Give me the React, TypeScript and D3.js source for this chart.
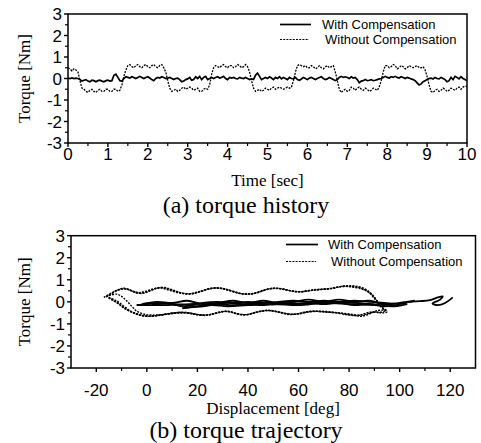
import React from "react";
import * as d3 from "d3";

// ---------- data ----------
const SAMPLE_STEP = 0.05; // s, sampling interval of the recorded torque history

// Without compensation (Nm), one row per second, 20 samples each, plus final sample
const torqueWithout: number[] = [
  0.5, 0.45, 0.35, 0.45, 0.4, 0.3, -0.1, -0.45, -0.5, -0.6, -0.65, -0.55, -0.5, -0.6, -0.65, -0.55, -0.5, -0.6, -0.6, -0.5,
  -0.5, -0.6, -0.6, -0.5, -0.5, -0.6, -0.55, -0.3, 0.1, 0.4, 0.6, 0.65, 0.55, 0.5, 0.6, 0.65, 0.55, 0.5, 0.6, 0.65,
  0.55, 0.5, 0.6, 0.65, 0.55, 0.5, 0.6, 0.65, 0.5, 0.3, -0.1, -0.45, -0.6, -0.55, -0.5, -0.6, -0.55, -0.45, -0.4, -0.5,
  -0.45, -0.4, -0.45, -0.55, -0.5, -0.45, -0.6, -0.6, -0.5, -0.45, -0.5, -0.3, 0.2, 0.5, 0.6, 0.55, 0.5, 0.6, 0.65, 0.55,
  0.5, 0.6, 0.6, 0.5, 0.55, 0.65, 0.6, 0.5, 0.55, 0.65, 0.55, 0.3, -0.1, -0.45, -0.6, -0.55, -0.5, -0.6, -0.55, -0.45,
  -0.5, -0.55, -0.45, -0.4, -0.5, -0.45, -0.4, -0.45, -0.5, -0.45, -0.4, -0.45, -0.4, -0.1, 0.3, 0.6, 0.65, 0.6, 0.55, 0.6,
  0.5, 0.5, 0.6, 0.55, 0.45, 0.5, 0.6, 0.5, 0.45, 0.55, 0.6, 0.5, 0.55, 0.6, 0.3, -0.1, -0.5, -0.65, -0.55, -0.5,
  -0.6, -0.55, -0.4, -0.45, -0.55, -0.45, -0.4, -0.5, -0.55, -0.45, -0.5, -0.6, -0.55, -0.45, -0.5, -0.55, -0.4, -0.1, 0.3, 0.6,
  0.6, 0.5, 0.55, 0.65, 0.6, 0.45, 0.5, 0.6, 0.55, 0.45, 0.5, 0.6, 0.55, 0.5, 0.55, 0.6, 0.5, 0.5, 0.55, 0.4,
  0.1, -0.3, -0.6, -0.65, -0.55, -0.5, -0.6, -0.55, -0.45, -0.5, -0.6, -0.55, -0.45, -0.5, -0.55, -0.45, -0.4, -0.5, -0.4, -0.35,
  -0.35,
];

// With compensation (Nm)
const torqueWith: number[] = [
  0.02, 0.0, 0.03, 0.0, 0.02, 0.0, -0.05, -0.12, -0.08, -0.05, -0.12, -0.15, -0.08, -0.1, -0.15, -0.1, -0.08, -0.12, -0.15, -0.1,
  -0.08, -0.12, -0.1, 0.15, 0.2, 0.05, -0.1, -0.12, 0.0, 0.08, 0.05, 0.02, 0.08, 0.05, 0.0, 0.05, 0.1, 0.05, 0.0, 0.05,
  0.08, 0.02, -0.05, -0.1, 0.0, 0.05, 0.02, 0.08, 0.05, 0.0, 0.02, 0.05, 0.0, -0.05, 0.0, 0.02, -0.05, -0.15, -0.12, -0.05,
  -0.02, 0.05, -0.08, -0.05, 0.08, 0.0, 0.1, -0.05, 0.05, 0.1, -0.05, 0.0, 0.05, 0.0, 0.05, 0.08, 0.02, 0.05, 0.1, 0.0,
  -0.05, 0.05, 0.02, 0.05, 0.0, -0.02, 0.05, 0.02, 0.0, 0.05, 0.0, -0.05, -0.02, -0.05, 0.15, 0.25, 0.1, -0.05, 0.0, 0.05,
  0.0, 0.08, 0.02, -0.05, 0.05, 0.0, 0.08, -0.02, 0.05, 0.0, -0.05, 0.05, 0.0, -0.02, 0.05, -0.05, -0.08, -0.02, 0.05, 0.0,
  -0.05, 0.02, 0.05, 0.0, -0.05, 0.0, 0.05, 0.08, 0.0, -0.05, -0.02, 0.05, 0.0, -0.05, -0.1, -0.05, 0.05, 0.1, 0.05, 0.08,
  0.05, 0.0, 0.08, 0.02, 0.05, -0.05, -0.2, -0.12, -0.1, -0.05, -0.1, -0.08, -0.05, -0.1, -0.08, -0.05, -0.02, 0.0, 0.05, 0.1,
  0.05, 0.02, 0.08, 0.05, 0.1, 0.05, 0.02, 0.08, 0.05, 0.0, 0.05, 0.02, -0.02, -0.05, -0.1, -0.2, -0.3, -0.25, -0.15, -0.1,
  -0.05, 0.0, 0.02, -0.02, 0.05, 0.0, -0.02, 0.05, 0.0, -0.05, -0.15, -0.1, 0.05, -0.05, 0.1, 0.05, -0.02, 0.08, 0.0, -0.05,
  -0.1,
];

// Trajectory (displacement deg, torque Nm): without compensation, several passes
const trajWithoutA: [number, number][] = [
  [-16, 0.25], [-13, 0.45], [-10, 0.6], [-7, 0.55], [-4, 0.4], [-1, 0.42], [2, 0.55], [5, 0.65], [8, 0.6], [12, 0.45],
  [16, 0.35], [20, 0.42], [24, 0.58], [28, 0.63], [32, 0.55], [36, 0.4], [40, 0.35], [44, 0.42], [48, 0.58], [52, 0.6],
  [56, 0.52], [60, 0.45], [64, 0.5], [68, 0.55], [72, 0.6], [76, 0.68], [80, 0.7], [84, 0.65], [87, 0.5], [90, 0.2],
  [92, -0.1], [94, -0.35], [95, -0.45], [93, -0.5], [90, -0.45], [87, -0.5], [84, -0.6], [80, -0.55], [76, -0.5],
  [72, -0.45], [68, -0.42], [64, -0.45], [60, -0.55], [56, -0.55], [52, -0.45], [48, -0.38], [44, -0.45], [40, -0.58],
  [36, -0.55], [32, -0.42], [28, -0.5], [24, -0.6], [20, -0.58], [16, -0.5], [12, -0.5], [8, -0.55], [4, -0.62],
  [0, -0.65], [-4, -0.55], [-8, -0.35], [-11, -0.1], [-14, 0.1], [-16, 0.25],
];
const trajWithoutB: [number, number][] = [
  [-17, 0.2], [-14, 0.4], [-11, 0.55], [-8, 0.58], [-5, 0.45], [-2, 0.38], [1, 0.48], [4, 0.62], [7, 0.65], [10, 0.55],
  [14, 0.4], [18, 0.38], [22, 0.5], [26, 0.62], [30, 0.6], [34, 0.48], [38, 0.36], [42, 0.38], [46, 0.52], [50, 0.62],
  [54, 0.58], [58, 0.48], [62, 0.47], [66, 0.55], [70, 0.58], [74, 0.62], [78, 0.72], [82, 0.72], [86, 0.6], [89, 0.35],
  [91, 0.05], [93, -0.25], [95, -0.4], [94, -0.38], [91, -0.4], [88, -0.55], [85, -0.65], [81, -0.6], [77, -0.52],
  [73, -0.48], [69, -0.45], [65, -0.42], [61, -0.5], [57, -0.58], [53, -0.5], [49, -0.4], [45, -0.42], [41, -0.55],
  [37, -0.58], [33, -0.45], [29, -0.45], [25, -0.58], [21, -0.6], [17, -0.52], [13, -0.48], [9, -0.52], [5, -0.6],
  [1, -0.66], [-3, -0.6], [-6, -0.45], [-9, -0.2], [-12, 0.05], [-15, 0.2],
];
const trajWithoutC: [number, number][] = [
  [-15, 0.28], [-12, 0.35], [-10, 0.25], [-8, 0.05], [-6, -0.2], [-4, -0.42], [-1, -0.56], [3, -0.6], [7, -0.57],
  [11, -0.5], [15, -0.47], [19, -0.55], [23, -0.62],
];
const trajWithoutD: [number, number][] = [
  [-16, 0.22], [-12, 0.5], [-9, 0.62], [-6, 0.5], [-3, 0.42], [0, 0.5], [3, 0.6], [6, 0.62], [9, 0.52], [13, 0.4],
  [17, 0.37], [21, 0.47], [25, 0.6], [29, 0.62], [33, 0.5], [37, 0.38], [41, 0.36], [45, 0.47], [49, 0.6], [53, 0.6],
  [57, 0.5], [61, 0.46], [65, 0.52], [69, 0.56], [73, 0.6], [77, 0.7], [81, 0.68], [85, 0.58], [88, 0.42], [90, 0.15],
  [92, -0.15], [94, -0.42], [92, -0.48], [89, -0.48], [86, -0.58], [83, -0.62], [79, -0.58], [75, -0.5], [71, -0.46],
  [67, -0.43], [63, -0.47], [59, -0.56], [55, -0.53], [51, -0.43], [47, -0.4], [43, -0.48], [39, -0.58], [35, -0.52],
  [31, -0.43], [27, -0.53], [23, -0.6], [19, -0.56], [15, -0.49], [11, -0.52], [7, -0.58], [3, -0.64], [-1, -0.63],
  [-5, -0.5], [-9, -0.28], [-12, -0.02], [-15, 0.18],
];

// Trajectory: with compensation, several passes
const trajWithA: [number, number][] = [
  [-4, -0.15], [0, -0.1], [5, -0.05], [10, -0.1], [14, -0.2], [18, -0.15], [22, -0.05], [28, 0.0], [34, -0.05],
  [40, 0.0], [46, -0.05], [52, 0.0], [58, 0.05], [64, 0.0], [70, 0.05], [76, 0.0], [82, 0.05], [88, 0.0], [94, -0.05],
  [100, -0.1], [104, 0.0], [108, 0.03], [112, 0.08], [115, 0.2], [117, 0.25], [116, 0.1], [113, -0.08], [115, -0.15],
  [118, -0.05], [121, 0.2],
];
const trajWithB: [number, number][] = [
  [100, -0.15], [94, -0.2], [88, -0.1], [82, -0.15], [76, -0.05], [70, -0.1], [64, -0.05], [58, -0.1], [52, -0.05],
  [46, -0.15], [40, -0.1], [34, -0.15], [28, -0.1], [22, -0.2], [16, -0.25], [12, -0.15], [6, -0.15], [0, -0.15], [-4, -0.15],
];
const trajWithC: [number, number][] = [
  [-2, -0.1], [4, 0.0], [10, -0.05], [16, 0.05], [22, -0.1], [28, -0.05], [34, 0.05], [40, -0.05], [46, 0.05],
  [52, -0.05], [58, 0.0], [64, 0.1], [70, 0.0], [76, 0.1], [82, 0.0], [88, 0.05], [94, -0.1], [100, -0.05], [106, 0.05],
];
const trajWithD: [number, number][] = [
  [14, -0.3], [20, -0.2], [26, -0.15], [32, -0.2], [40, -0.15], [50, -0.1], [60, -0.15], [70, -0.05], [80, -0.1],
  [90, -0.15], [98, -0.2], [103, -0.1],
];
const trajWithE: [number, number][] = [
  [2, -0.12], [8, -0.08], [14, -0.12], [20, -0.08], [26, -0.12], [32, -0.05], [38, -0.1], [44, -0.08], [50, -0.12],
  [56, -0.05], [62, -0.08], [68, -0.02], [74, -0.06], [80, -0.03], [86, -0.08], [92, -0.12], [98, -0.08],
];

// Ticks
const yTicks = [-3, -2, -1, 0, 1, 2, 3];
const yMinor = [-2.5, -1.5, -0.5, 0.5, 1.5, 2.5];
const timeTicks = [0, 1, 2, 3, 4, 5, 6, 7, 8, 9, 10];
const timeMinor = [0.5, 1.5, 2.5, 3.5, 4.5, 5.5, 6.5, 7.5, 8.5, 9.5];
const dispTicks = [-20, 0, 20, 40, 60, 80, 100, 120];
const dispMinor = [-10, 10, 30, 50, 70, 90, 110];

const legendLabels = ["With Compensation", "Without Compensation"];

// ---------- layout ----------
const SANS = "'Liberation Sans', Arial, Helvetica, sans-serif";
const SERIF = "'Liberation Serif', 'Times New Roman', Times, serif";
const DASH = "2,1.2";

const x1 = d3.scaleLinear().domain([0, 10]).range([68, 467]);
const y1 = d3.scaleLinear().domain([-3, 3]).range([143, 14]);
const x2 = d3.scaleLinear().domain([-30, 130]).range([71, 475.5]);
const y2 = d3.scaleLinear().domain([-3, 3]).range([368, 235.7]);

type Sc = d3.ScaleLinear<number, number>;

function Frame({ x, y, xt, xm, xLabelY }: { x: Sc; y: Sc; xt: number[]; xm: number[]; xLabelY: number }) {
  const [xl, xr] = x.range();
  const [yb, yt] = y.range();
  return (
    <g>
      <rect x={xl} y={yt} width={xr - xl} height={yb - yt} fill="none" stroke="#000" strokeWidth={1.5} />
      {yTicks.map((v) => (
        <g key={"y" + v}>
          <line x1={xl - 4} x2={xl} y1={y(v)} y2={y(v)} stroke="#000" strokeWidth={1.4} />
          <text x={xl - 6} y={y(v)} dy="0.36em" textAnchor="end" fontFamily={SANS} fontSize={17}>{v}</text>
        </g>
      ))}
      {yMinor.map((v) => (
        <line key={"ym" + v} x1={xl - 3} x2={xl} y1={y(v)} y2={y(v)} stroke="#000" strokeWidth={1.2} />
      ))}
      {xt.map((v) => (
        <g key={"x" + v}>
          <line x1={x(v)} x2={x(v)} y1={yb} y2={yb + 4} stroke="#000" strokeWidth={1.4} />
          <text x={x(v)} y={xLabelY} textAnchor="middle" fontFamily={SANS} fontSize={17}>{v}</text>
        </g>
      ))}
      {xm.map((v) => (
        <line key={"xm" + v} x1={x(v)} x2={x(v)} y1={yb} y2={yb + 3} stroke="#000" strokeWidth={1.2} />
      ))}
    </g>
  );
}

function Legend({ lx0, lx1, tx, row1, row2 }: { lx0: number; lx1: number; tx: number; row1: number; row2: number }) {
  return (
    <g fontFamily={SANS} fontSize={13}>
      <line x1={lx0} x2={lx1} y1={row1} y2={row1} stroke="#000" strokeWidth={1.7} />
      <text x={tx} y={row1} dy="0.35em">{legendLabels[0]}</text>
      <line x1={lx0} x2={lx1 - 2} y1={row2} y2={row2} stroke="#000" strokeWidth={1.2} strokeDasharray={DASH} />
      <text x={tx + 3} y={row2} dy="0.35em">{legendLabels[1]}</text>
    </g>
  );
}

export default function App() {
  const timeLine = d3
    .line<number>()
    .x((_, i) => x1(i * SAMPLE_STEP))
    .y((d) => y1(d))
    .curve(d3.curveLinear);
  const trajLine = d3
    .line<[number, number]>()
    .x((d) => x2(d[0]))
    .y((d) => y2(d[1]))
    .curve(d3.curveCatmullRom.alpha(0.5));

  return (
    <svg width={481} height={443} style={{ position: "absolute", left: 0, top: 0, background: "#fff" }}>
      {/* (a) torque history */}
      <Frame x={x1} y={y1} xt={timeTicks} xm={timeMinor} xLabelY={159.5} />
      <path d={timeLine(torqueWithout) || ""} fill="none" stroke="#000" strokeWidth={1.3} strokeDasharray={DASH} />
      <path d={timeLine(torqueWith) || ""} fill="none" stroke="#000" strokeWidth={1.7} />
      <Legend lx0={280} lx1={311} tx={322} row1={24.5} row2={39.5} />
      <text x={267.5} y={186} textAnchor="middle" fontFamily={SERIF} fontSize={17}>Time [sec]</text>
      <text transform={`translate(30,${(y1(3) + y1(-3)) / 2}) rotate(-90)`} textAnchor="middle" fontFamily={SERIF} fontSize={17}>Torque [Nm]</text>
      <text x={246} y={213} textAnchor="middle" fontFamily={SERIF} fontSize={24}>(a) torque history</text>

      {/* (b) torque trajectory */}
      <Frame x={x2} y={y2} xt={dispTicks} xm={dispMinor} xLabelY={395.5} />
      {[trajWithoutA, trajWithoutB, trajWithoutC, trajWithoutD].map((p, i) => (
        <path key={"wo" + i} d={trajLine(p) || ""} fill="none" stroke="#000" strokeWidth={1.4} strokeDasharray={DASH} />
      ))}
      {[trajWithA, trajWithB, trajWithC, trajWithD, trajWithE].map((p, i) => (
        <path key={"w" + i} d={trajLine(p) || ""} fill="none" stroke="#000" strokeWidth={1.8} />
      ))}
      <Legend lx0={286} lx1={318} tx={328} row1={244.5} row2={261.5} />
      <text x={273} y={414} textAnchor="middle" fontFamily={SERIF} fontSize={17}>Displacement [deg]</text>
      <text transform={`translate(30,${(y2(3) + y2(-3)) / 2}) rotate(-90)`} textAnchor="middle" fontFamily={SERIF} fontSize={17}>Torque [Nm]</text>
      <text x={246} y={438} textAnchor="middle" fontFamily={SERIF} fontSize={24}>(b) torque trajectory</text>
    </svg>
  );
}
